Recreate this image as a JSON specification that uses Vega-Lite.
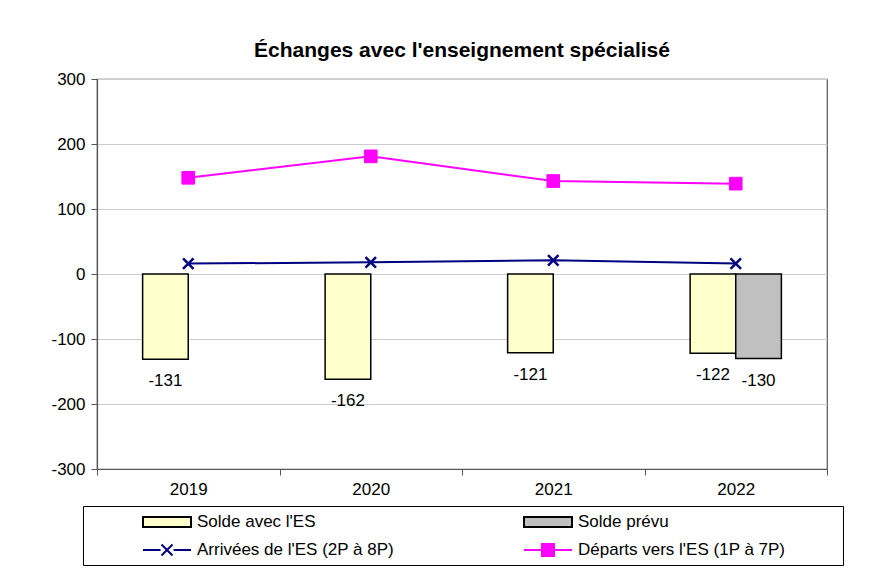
{
  "$schema": "https://vega.github.io/schema/vega-lite/v6.json",
  "autosize": {"type": "none"},
  "width": 730,
  "height": 390,
  "padding": {"left": 97, "top": 79, "right": 44, "bottom": 116},
  "background": "white",
  "config": {
    "font": "Liberation Sans",
    "view": {"stroke": "#555555", "strokeWidth": 1.2},
    "axis": {"labelFont": "Liberation Sans", "labelFontSize": 17, "labelColor": "black", "domainColor": "#555555", "tickColor": "#555555", "tickSize": 6, "labelPadding": 6, "title": null},
    "legend": {
      "orient": "none", "legendX": -14, "legendY": 427, "columns": 2, "direction": "horizontal",
      "titleOrient": "right", "titlePadding": 53, "titleFontSize": 10,
      "strokeColor": "black", "padding": 5, "fillColor": "white",
      "labelFont": "Liberation Sans", "labelFontSize": 17, "labelColor": "black", "labelLimit": 400,
      "symbolSize": 400, "symbolOffset": 68, "labelOffset": 19, "columnPadding": 75, "rowPadding": 8,
      "symbolOpacity": 1, "symbolStrokeWidth": 2
    }
  },
  "title": {"text": "Échanges avec l'enseignement spécialisé", "font": "Liberation Sans", "fontSize": 21, "fontWeight": "bold", "color": "black", "anchor": "middle", "offset": 9},
  "datasets": {
    "bars": [
      {"annee": "2019", "serie": "Solde avec l'ES", "valeur": -131},
      {"annee": "2020", "serie": "Solde avec l'ES", "valeur": -162},
      {"annee": "2021", "serie": "Solde avec l'ES", "valeur": -121},
      {"annee": "2022", "serie": "Solde avec l'ES", "valeur": -122},
      {"annee": "2022", "serie": "Solde prévu", "valeur": -130}
    ],
    "lines": [
      {"annee": "2019", "serie": "Arrivées de l'ES (2P à 8P)", "valeur": 16},
      {"annee": "2020", "serie": "Arrivées de l'ES (2P à 8P)", "valeur": 18},
      {"annee": "2021", "serie": "Arrivées de l'ES (2P à 8P)", "valeur": 21},
      {"annee": "2022", "serie": "Arrivées de l'ES (2P à 8P)", "valeur": 16},
      {"annee": "2019", "serie": "Départs vers l'ES (1P à 7P)", "valeur": 148},
      {"annee": "2020", "serie": "Départs vers l'ES (1P à 7P)", "valeur": 181},
      {"annee": "2021", "serie": "Départs vers l'ES (1P à 7P)", "valeur": 143},
      {"annee": "2022", "serie": "Départs vers l'ES (1P à 7P)", "valeur": 139}
    ]
  },
  "encoding": {
    "x": {"field": "annee", "type": "nominal", "scale": {"domain": ["2019", "2020", "2021", "2022"], "paddingInner": 0, "paddingOuter": 0},
      "axis": {"labelAngle": 0, "tickBand": "extent", "grid": false, "domainWidth": 1.2}},
    "y": {"field": "valeur", "type": "quantitative", "scale": {"domain": [-300, 300], "nice": false},
      "axis": {"values": [-300, -200, -100, 0, 100, 200, 300], "labelExpr": "'' + datum.value", "grid": true, "gridColor": "#cccccc", "gridWidth": 1.2, "domainWidth": 1.2}}
  },
  "layer": [
    {
      "data": {"name": "bars"},
      "mark": {"type": "bar", "strokeWidth": 1.5, "opacity": 1},
      "encoding": {
        "xOffset": {"field": "serie", "type": "nominal", "scale": {"domain": ["Solde avec l'ES", "Solde prévu"], "paddingInner": 0, "paddingOuter": 1}},
        "fill": {"field": "serie", "type": "nominal",
          "scale": {"domain": ["Solde avec l'ES", "Solde prévu", "Arrivées de l'ES (2P à 8P)", "Départs vers l'ES (1P à 7P)"], "range": ["#FFFFCC", "#C0C0C0", "transparent", "#FF00FF"]},
          "legend": {"title": "\u00a0"}},
        "stroke": {"field": "serie", "type": "nominal",
          "scale": {"domain": ["Solde avec l'ES", "Solde prévu", "Arrivées de l'ES (2P à 8P)", "Départs vers l'ES (1P à 7P)"], "range": ["black", "black", "#000080", "#FF00FF"]},
          "legend": {"title": "\u00a0"}}
      }
    },
    {
      "data": {"name": "bars"},
      "mark": {"type": "text", "baseline": "middle", "dy": 22, "fontSize": 17, "color": "black", "font": "Liberation Sans"},
      "encoding": {
        "xOffset": {"field": "serie", "type": "nominal", "scale": {"domain": ["Solde avec l'ES", "Solde prévu"], "paddingInner": 0, "paddingOuter": 1}},
        "text": {"field": "valeur", "type": "nominal"}
      }
    },
    {
      "mark": {"type": "rule", "color": "black", "strokeWidth": 1.2},
      "encoding": {"y": {"datum": 0}, "x": null}
    },
    {
      "data": {"name": "lines"},
      "mark": {"type": "line", "strokeWidth": 2},
      "encoding": {"stroke": {"field": "serie", "type": "nominal", "legend": {"title": "\u00a0"}}}
    },
    {
      "data": {"name": "lines"},
      "transform": [{"filter": "indexof(datum.serie,'Arriv')==0"}],
      "mark": {"type": "point", "shape": "M-1,-1L1,1M-1,1L1,-1", "size": 110, "strokeWidth": 2.5, "opacity": 1},
      "encoding": {
        "stroke": {"field": "serie", "type": "nominal", "legend": {"title": "\u00a0"}},
        "fill": {"field": "serie", "type": "nominal", "legend": {"title": "\u00a0"}}
      }
    },
    {
      "data": {"name": "lines"},
      "transform": [{"filter": "indexof(datum.serie,'Dép')==0"}],
      "mark": {"type": "point", "shape": "square", "size": 160, "strokeWidth": 1, "opacity": 1},
      "encoding": {
        "stroke": {"field": "serie", "type": "nominal", "legend": {"title": "\u00a0"}},
        "fill": {"field": "serie", "type": "nominal", "legend": {"title": "\u00a0"}}
      }
    },
    {
      "data": {"name": "lines"},
      "mark": {"type": "point", "opacity": 0},
      "encoding": {
        "shape": {"field": "serie", "type": "nominal",
          "scale": {"domain": ["Solde avec l'ES", "Solde prévu", "Arrivées de l'ES (2P à 8P)", "Départs vers l'ES (1P à 7P)"],
            "range": ["M-2.4,-0.5H2.4V0.5H-2.4Z", "M-2.4,-0.5H2.4V0.5H-2.4Z", "M-2.4,0H-0.65M0.65,0H2.4M-0.55,-0.55L0.55,0.55M-0.55,0.55L0.55,-0.55", "M-2.4,0H2.4M-0.6,-0.6H0.6V0.6H-0.6Z"]},
          "legend": {"title": "\u00a0"}}
      }
    }
  ]
}
